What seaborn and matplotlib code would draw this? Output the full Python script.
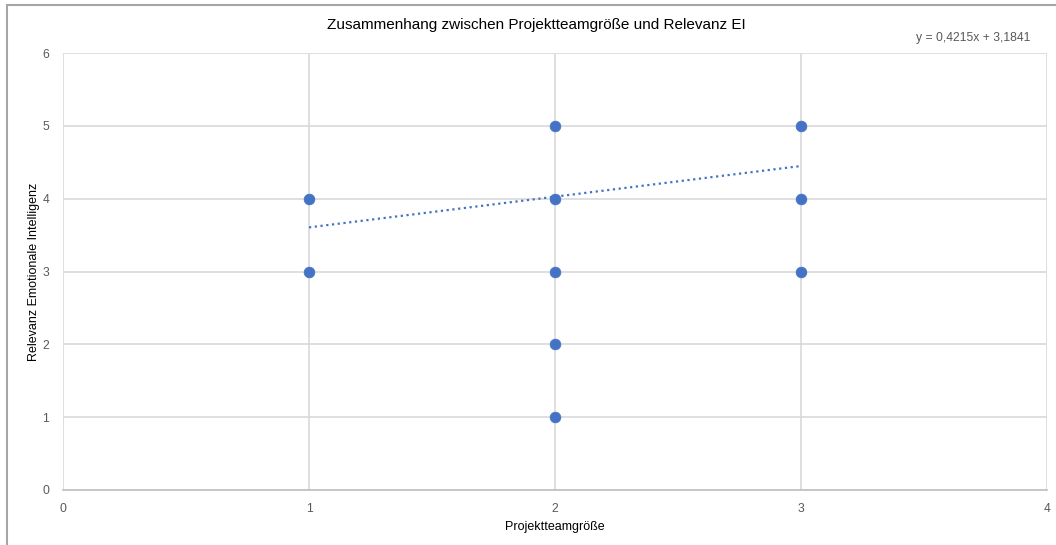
import matplotlib
matplotlib.use("Agg")
import matplotlib.pyplot as plt
import seaborn as sns
import numpy as np
import pandas as pd
from matplotlib.patches import Rectangle

# Data
team_size = [1, 1, 2, 2, 2, 2, 2, 3, 3, 3]
relevance = [4, 3, 5, 4, 3, 2, 1, 5, 4, 3]
trend_slope = 0.4215
trend_intercept = 3.1841
trend_x = [1, 3]
x_ticks = [0, 1, 2, 3, 4]
y_ticks = [0, 1, 2, 3, 4, 5, 6]
title = "Zusammenhang zwischen Projektteamgröße und Relevanz EI"
equation = "y = 0,4215x + 3,1841"
x_label = "Projektteamgröße"
y_label = "Relevanz Emotionale Intelligenz"

sns.set_theme(style="white")
plt.rcParams['font.family'] = ['Liberation Sans', 'DejaVu Sans']

df = pd.DataFrame({"x": team_size, "y": relevance})

fig = plt.figure(figsize=(10.56, 5.45), dpi=100)
ax = fig.add_axes([63/1056, 1 - 490/545, (1047 - 63)/1056, (490 - 53)/545])

blue = "#4472C4"
grid_c = "#D9D9D9"

ax.set_xlim(0, 4)
ax.set_ylim(0, 6)
ax.set_xticks(x_ticks)
ax.set_yticks(y_ticks)
ax.grid(True, color=grid_c, linewidth=1.2, zorder=0)
ax.set_axisbelow(True)

tx = np.array(trend_x, dtype=float)
ax.plot(tx, trend_slope * tx + trend_intercept, linestyle=(0, (1, 1.6)),
        color=blue, linewidth=1.6, zorder=2)

sns.scatterplot(data=df, x="x", y="y", ax=ax, color=blue, s=60,
                edgecolor=blue, linewidth=0.5, zorder=3, legend=False)

for side in ["top", "right", "left"]:
    ax.spines[side].set_visible(False)
ax.spines["bottom"].set_color("#BFBFBF")
ax.spines["bottom"].set_linewidth(1.2)

ax.tick_params(axis="both", length=0, labelsize=8.7, labelcolor="#595959")
ax.tick_params(axis="x", pad=9)
ax.tick_params(axis="y", pad=10)

ax.set_xlabel(x_label, fontsize=9, color="black", labelpad=5)
ax.set_ylabel(y_label, fontsize=9, color="black", labelpad=1.5)

fig.text(536/1056, 1 - 25/545, title, ha="center", va="center",
         fontsize=11, color="black")
fig.text(973/1056, 1 - 38/545, equation, ha="center", va="center",
         fontsize=8.7, color="#595959")

# outer frame
fig.patches.append(Rectangle((7/1056, -0.05), 1.2, 1 - 5/545 + 0.05,
                             transform=fig.transFigure, fill=False,
                             edgecolor="#A6A6A6", linewidth=1.5))

fig.savefig("out.png", dpi=100, facecolor="white")
